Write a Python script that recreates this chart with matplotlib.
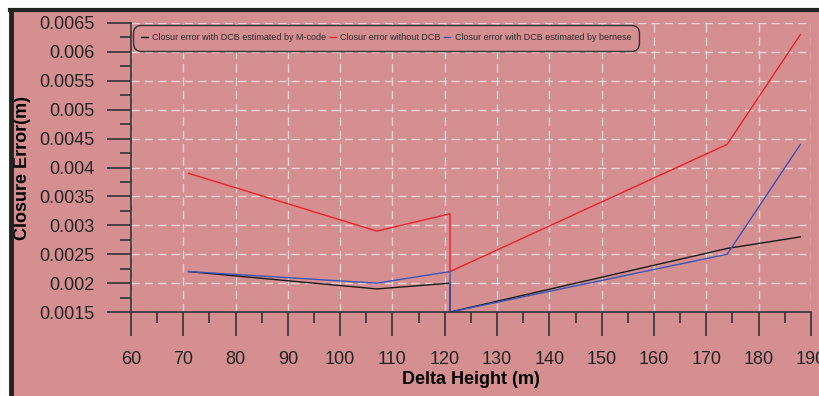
import matplotlib.pyplot as plt
from matplotlib.patches import Rectangle
from matplotlib.lines import Line2D
from matplotlib.ticker import MultipleLocator, FormatStrFormatter

plt.rcParams['font.family'] = ['Liberation Sans', 'DejaVu Sans']

# data
delta_h = [71, 107, 121, 121, 174, 188]
err_mcode = [0.0022, 0.0019, 0.0020, 0.0015, 0.0026, 0.0028]
err_nodcb = [0.0039, 0.0029, 0.0032, 0.0022, 0.0044, 0.0063]
err_bernese = [0.0022, 0.0020, 0.0022, 0.0015, 0.0025, 0.0044]

labels = ["Closur error with DCB estimated by M-code",
          "Closur error without DCB",
          "Closur error with DCB estimated by bernese"]

bg = '#d68f91'

fig = plt.figure(figsize=(8.19, 3.96), dpi=100, facecolor=bg)

# white strip + black frame at top/left (scanned look)
fig.patches.append(Rectangle((0, 0.975), 1, 0.025, transform=fig.transFigure,
                             facecolor='white', edgecolor='none', zorder=0))
fig.patches.append(Rectangle((0, 0), 0.012, 1, transform=fig.transFigure,
                             facecolor='white', edgecolor='none', zorder=0))
fig.lines.append(Line2D([0.012, 1], [0.974, 0.974], transform=fig.transFigure,
                        color='#222222', lw=3))
fig.lines.append(Line2D([0.014, 0.014], [0, 0.975], transform=fig.transFigure,
                        color='#222222', lw=3.5))

ax = fig.add_axes([0.16, 0.212, 0.83, 0.73])
ax.set_facecolor(bg)

ax.plot(delta_h, err_mcode, color='#1a1a1a', lw=1, label=labels[0])
ax.plot(delta_h, err_nodcb, color='#ee2229', lw=1, label=labels[1])
ax.plot(delta_h, err_bernese, color='#3a55b5', lw=1, label=labels[2])

ax.set_xlim(60, 190)
ax.set_ylim(0.0015, 0.0065)
ax.xaxis.set_major_locator(MultipleLocator(10))
ax.xaxis.set_minor_locator(MultipleLocator(5))
ax.yaxis.set_major_locator(MultipleLocator(0.0005))
ax.yaxis.set_minor_locator(MultipleLocator(0.00025))
ax.yaxis.set_major_formatter(FormatStrFormatter('%g'))

for s in ['top', 'right']:
    ax.spines[s].set_visible(False)
for s in ['left', 'bottom']:
    ax.spines[s].set_color('#333333')
    ax.spines[s].set_linewidth(1.2)

ax.tick_params(axis='both', which='major', length=17, width=1.2,
               color='#333333', labelsize=13, labelcolor='#222222')
ax.tick_params(axis='both', which='minor', length=8, width=1.2, color='#333333')
ax.tick_params(axis='y', which='major', pad=9)
ax.tick_params(axis='x', which='major', pad=11)

ax.grid(True, which='major', color='#e4d6d6', linestyle=(0, (6, 3.6)), lw=1)
ax.set_axisbelow(True)

ax.set_xlabel("Delta Height (m)", fontsize=13, fontweight='bold', labelpad=2)
ax.set_ylabel("Closure Error(m)", fontsize=13, fontweight='bold', labelpad=6)

leg = ax.legend(loc='upper left', bbox_to_anchor=(0.002, 0.995), ncol=3,
                fontsize=6.5, handlelength=0.7, handletextpad=0.5,
                columnspacing=0.35, borderpad=0.9, borderaxespad=0.1,
                fancybox=True, facecolor=bg, edgecolor='#333333',
                framealpha=1, labelcolor='#2a2a2a')
leg.get_frame().set_linewidth(1)
leg.get_frame().set_boxstyle('round', pad=0, rounding_size=0.9)

fig.savefig('out.png', dpi=100, facecolor=bg)
